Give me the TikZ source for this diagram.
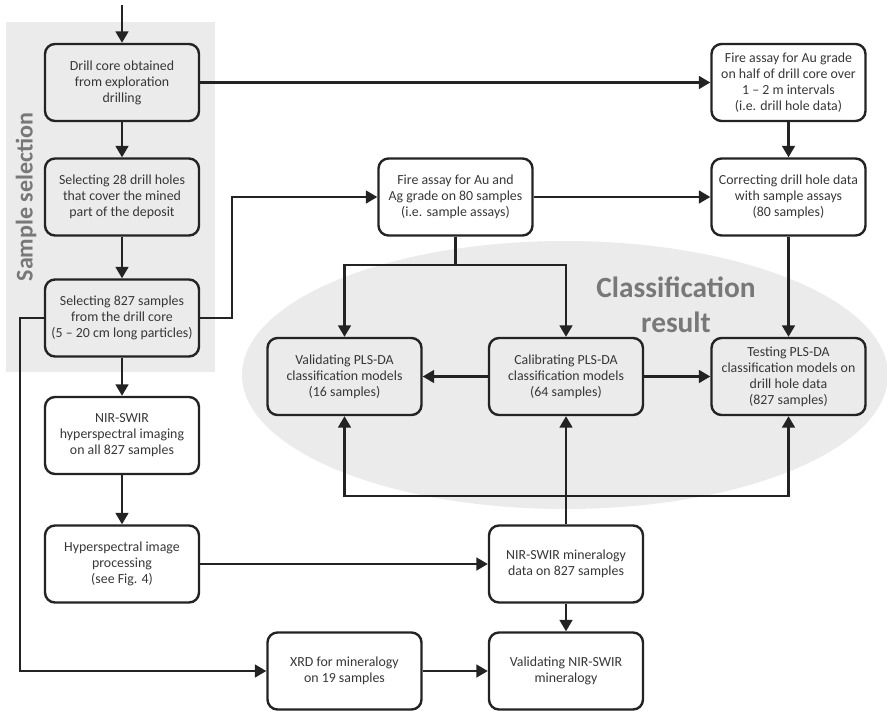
\documentclass[tikz,border=0pt]{standalone}
\usepackage{fontspec}
\setmainfont{Carlito}
\usepackage{tikz}
\usetikzlibrary{arrows.meta}
\usepackage{xcolor}

\definecolor{lineclr}{RGB}{35,35,35}
\definecolor{textclr}{RGB}{55,55,55}
\definecolor{shadeclr}{RGB}{235,235,235}
\definecolor{labelclr}{RGB}{120,120,120}

\begin{document}
\begin{tikzpicture}[x=0.75pt,y=0.75pt,yscale=-1,xscale=1,
  stepbox/.style={draw=lineclr,line width=1.8pt,rounded corners=7.5pt,
    minimum width=115.5pt,minimum height=57.75pt,align=center,
    text=textclr,font=\fontsize{10.4}{12}\selectfont,inner sep=0.75pt},
  flow/.style={draw=lineclr,line width=1.7pt,-{Triangle[length=8.5pt,width=9.5pt]}},
  plain/.style={draw=lineclr,line width=1.7pt},
  grouplabel/.style={text=labelclr,font=\bfseries\fontsize{22}{26}\selectfont,align=center}]
\useasboundingbox (0,0) rectangle (887,710);

%Shaded regions
\fill [shadeclr] (6,22) rectangle (215,372);
\fill [shadeclr] (565,375) ellipse [x radius=323, y radius=134];

% Text Node
\node [grouplabel,rotate=90,font=\bfseries\fontsize{18}{22}\selectfont] (selabel) at (26,197) {Sample selection};
% Text Node
\node [grouplabel] (clabel) at (676,305) {Classification\\result};

%Rounded Rect
\node [stepbox] (drill) at (122,82.5) {Drill core obtained\\from exploration\\drilling};
\node [stepbox] (sel28) at (122,197) {Selecting 28 drill holes\\that cover the mined\\part of the deposit};
\node [stepbox] (sel827) at (122,318) {Selecting 827 samples\\from the drill core\\(5 -- 20 cm long particles)};
\node [stepbox] (nirimg) at (122,435.5) {NIR-SWIR\\hyperspectral imaging\\on all 827 samples};
\node [stepbox] (hsproc) at (122,564) {Hyperspectral image\\processing\\(see Fig. 4)};
\node [stepbox] (xrd) at (344.5,671) {XRD for mineralogy\\on 19 samples};
\node [stepbox] (firecore) at (788.5,82.5) {Fire assay for Au grade\\on half of drill core over\\1 -- 2 m intervals\\(i.e. drill hole data)};
\node [stepbox] (fireag) at (455.5,197) {Fire assay for Au and\\Ag grade on 80 samples\\(i.e. sample assays)};
\node [stepbox] (correct) at (788.5,197) {Correcting drill hole data\\with sample assays\\(80 samples)};
\node [stepbox] (valpls) at (344.5,376.5) {Validating PLS-DA\\classification models\\(16 samples)};
\node [stepbox] (calpls) at (566,376.5) {Calibrating PLS-DA\\classification models\\(64 samples)};
\node [stepbox] (testpls) at (788.5,376.5) {Testing PLS-DA\\classification models on\\drill hole data\\(827 samples)};
\node [stepbox] (nirmin) at (566,564) {NIR-SWIR mineralogy\\data on 827 samples};
\node [stepbox] (valnir) at (566,671) {Validating NIR-SWIR\\mineralogy};

%Straight Lines
\coordinate (start) at (122,5);
\draw [flow] (start) -- (drill);
\draw [flow] (drill) -- (sel28);
\draw [flow] (sel28) -- (sel827);
\draw [flow] (sel827) -- (nirimg);
\draw [flow] (nirimg) -- (hsproc);
\draw [flow] (drill) -- (firecore);
\draw [flow] (firecore) -- (correct);
\draw [flow] (sel827.east) -- ++(32,0) |- (fireag.west);
\draw [flow] (fireag) -- (correct);
\draw [flow] (correct) -- (testpls);
%Branch below the sample assays
\coordinate (split) at (455.5,265);
\draw [plain] (fireag.south) -- (split);
\draw [flow] (split) -| (valpls.north);
\draw [flow] (split) -| (calpls.north);
\draw [flow] (calpls) -- (valpls);
\draw [flow] (calpls) -- (testpls);
%Branch above the mineralogy data
\coordinate (join) at (566,496);
\draw [flow] (nirmin) -- (calpls);
\draw [flow] (join) -| (valpls.south);
\draw [flow] (join) -| (testpls.south);
\draw [flow] (hsproc) -- (nirmin);
\draw [flow] (sel827.west) -- ++(-24,0) |- (xrd.west);
\draw [flow] (xrd) -- (valnir);
\draw [flow] (nirmin) -- (valnir);

\end{tikzpicture}
\end{document}
